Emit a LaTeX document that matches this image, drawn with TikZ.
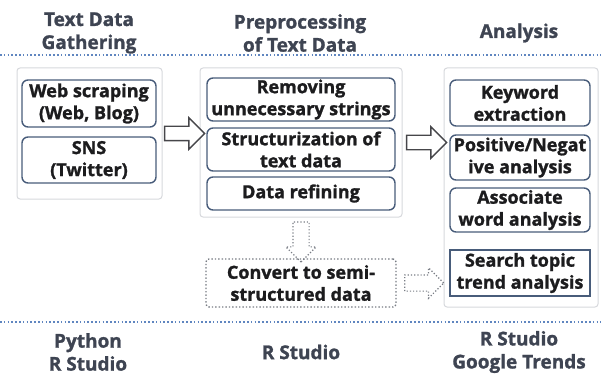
\documentclass[tikz,border=0pt]{standalone}
\usepackage{fontspec}
\setmainfont{Open Sans}[BoldFeatures={FakeBold=1.3}]
\definecolor{hdgray}{RGB}{62,68,82}
\definecolor{boxtext}{RGB}{28,28,30}
\definecolor{boxblue}{RGB}{72,92,122}
\definecolor{panelgray}{RGB}{214,216,220}
\definecolor{dotblue}{RGB}{96,134,192}
\definecolor{arrowgray}{RGB}{70,70,74}
\definecolor{dashgray}{RGB}{120,124,132}
\usetikzlibrary{arrows.meta,positioning,shapes.arrows,calc}

\tikzset{
  panel/.style={draw=panelgray, line width=1pt, rounded corners=3pt, inner sep=0pt},
  stepbox/.style={draw=boxblue, line width=1.4pt, rounded corners=6pt, inner sep=0pt,
    align=center, text=boxtext, font=\fontsize{18}{22}\selectfont\bfseries},
  headtext/.style={align=center, text=hdgray, font=\fontsize{19}{23}\selectfont\bfseries},
  sepline/.style={dotblue, line width=1.6pt, dash pattern=on 1.6pt off 2.2pt},
  bigarrow/.style={single arrow, draw=arrowgray, line width=1.4pt, fill=white,
    inner xsep=0pt, inner ysep=6.5pt, single arrow head extend=8.5pt, minimum height=40pt},
  dotarrow/.style={single arrow, draw=dashgray, line width=1.2pt, dotted,
    inner xsep=0pt, inner ysep=7.5pt, single arrow head extend=7pt, minimum height=40pt}
}

\begin{document}
\begin{tikzpicture}[x=1pt, y=-1pt]
  \useasboundingbox (0,0) rectangle (601,374);

  % Column headings
  \node[headtext] (h1) at (89,33) {Text Data\\Gathering};
  \node[headtext] (h2) at (300,33) {Preprocessing\\of Text Data};
  \node[headtext] (h3) at (519,33) {Analysis};
  \draw[sepline] (0,55) -- (601,55);

  % Panel 1: gathering
  \node[panel, minimum width=145pt, minimum height=131pt] (gather) at (89.5,133.5) {};
  \node[stepbox, minimum width=134pt, minimum height=47pt] (web) at (89,103.5) {Web scraping\\(Web, Blog)};
  \node[stepbox, minimum width=134pt, minimum height=46pt] (sns) at (89,160) {SNS\\(Twitter)};

  % Panel 2: preprocessing
  \node[panel, minimum width=202pt, minimum height=149pt] (prep) at (301,142.5) {};
  \node[stepbox, minimum width=188pt, minimum height=43pt] (remove) at (301,99.5) {Removing\\unnecessary strings};
  \node[stepbox, minimum width=188pt, minimum height=43pt] (struct) at (301,149.5) {Structurization of\\text data};
  \node[stepbox, minimum width=188pt, minimum height=33pt] (refine) at (301,193.5) {Data refining};
  \node[stepbox, draw=dashgray, dotted, rounded corners=3pt, minimum width=190pt, minimum height=48pt] (convert) at (301,283) {Convert to semi-\\structured data};

  % Panel 3: analysis
  \node[panel, minimum width=154pt, minimum height=239pt] (anal) at (521,187.5) {};
  \node[stepbox, minimum width=140pt, minimum height=46pt] (keyword) at (520,103) {Keyword\\extraction};
  \node[stepbox, minimum width=140pt, minimum height=45pt] (posneg) at (520,157.5) {Positive/Negat\\ive analysis};
  \node[stepbox, minimum width=140pt, minimum height=44pt] (assoc) at (520,210) {Associate\\word analysis};
  \node[stepbox, rounded corners=0pt, minimum width=140pt, minimum height=46pt] (search) at (520,273) {Search topic\\trend analysis};

  % Flow arrows
  \node[bigarrow] (a1) at ($(gather.east)!0.5!(prep.west |- gather.east)$) {};
  \node[bigarrow] (a2) at ($(prep.east)!0.5!(anal.west |- prep.east)$) {};
  \node[dotarrow, rotate=-90] (a3) at ($(prep.south)!0.5!(convert.north)$) {};
  \node[dotarrow, minimum height=39pt] (a4) at ($(convert.east)!0.5!(anal.west |- convert.east)$) {};

  % Tools
  \draw[sepline] (0,322) -- (601,322);
  \node[headtext] (t1) at (88,352) {Python\\R Studio};
  \node[headtext] (t2) at (301,352) {R Studio};
  \node[headtext] (t3) at (519,352) {R Studio\\Google Trends};
\end{tikzpicture}
\end{document}
